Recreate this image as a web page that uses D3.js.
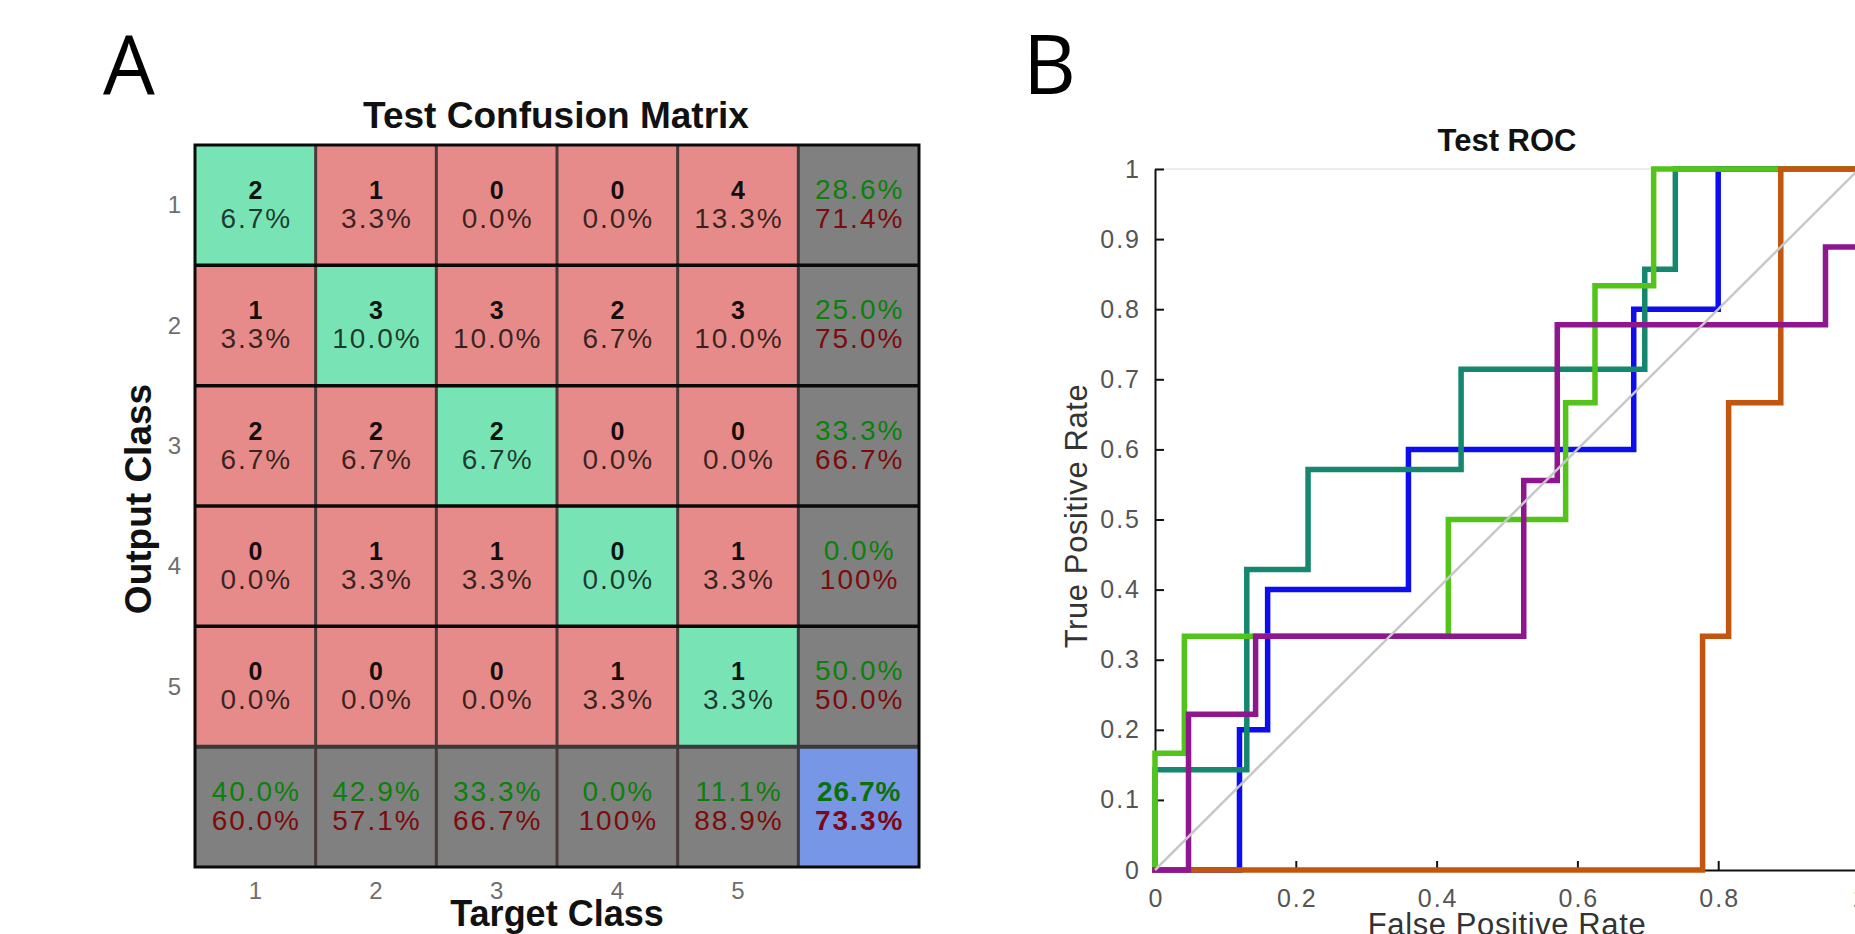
<!DOCTYPE html>
<html><head><meta charset="utf-8">
<script src="https://cdn.jsdelivr.net/npm/d3@7"></script>
<style>html,body{margin:0;padding:0;background:#fff;overflow:hidden}</style>
</head><body>
<svg id="chart" width="1855" height="934"></svg>
<script>
// ---------- Panel A data: confusion matrix ----------
const classes = ["1", "2", "3", "4", "5"];
// rows = output class, columns = target class
const counts = [
  [2, 1, 0, 0, 4],
  [1, 3, 3, 2, 3],
  [2, 2, 2, 0, 0],
  [0, 1, 1, 0, 1],
  [0, 0, 0, 1, 1]
];
const cellPercents = [
  ["6.7%", "3.3%", "0.0%", "0.0%", "13.3%"],
  ["3.3%", "10.0%", "10.0%", "6.7%", "10.0%"],
  ["6.7%", "6.7%", "6.7%", "0.0%", "0.0%"],
  ["0.0%", "3.3%", "3.3%", "0.0%", "3.3%"],
  ["0.0%", "0.0%", "0.0%", "3.3%", "3.3%"]
];
const rowCorrect = ["28.6%", "25.0%", "33.3%", "0.0%", "50.0%"];
const rowWrong   = ["71.4%", "75.0%", "66.7%", "100%", "50.0%"];
const colCorrect = ["40.0%", "42.9%", "33.3%", "0.0%", "11.1%"];
const colWrong   = ["60.0%", "57.1%", "66.7%", "100%", "88.9%"];
const overall    = ["26.7%", "73.3%"];

// ---------- Panel B data: ROC curves (FPR, TPR) ----------
const fprTicks = [0, 0.2, 0.4, 0.6, 0.8, 1];
const fprTickLabels = ["0", "0.2", "0.4", "0.6", "0.8", "1"];
const tprTicks = [0, 0.1, 0.2, 0.3, 0.4, 0.5, 0.6, 0.7, 0.8, 0.9, 1];
const tprTickLabels = ["0", "0.1", "0.2", "0.3", "0.4", "0.5", "0.6", "0.7", "0.8", "0.9", "1"];

const rocClass1 = [[0,0],[0.12,0],[0.12,0.2],[0.16,0.2],[0.16,0.4],[0.36,0.4],[0.36,0.6],[0.68,0.6],[0.68,0.8],[0.80,0.8],[0.80,1],[1,1]];
const rocClass2 = [[0,0],[0,0.1429],[0.1304,0.1429],[0.1304,0.4286],[0.2174,0.4286],[0.2174,0.5714],[0.4348,0.5714],[0.4348,0.7143],[0.6957,0.7143],[0.6957,0.8571],[0.7391,0.8571],[0.7391,1],[1,1]];
const rocClass3 = [[0,0],[0,0.1667],[0.0417,0.1667],[0.0417,0.3333],[0.4167,0.3333],[0.4167,0.5],[0.5833,0.5],[0.5833,0.6667],[0.625,0.6667],[0.625,0.8333],[0.7083,0.8333],[0.7083,1],[1,1]];
const rocClass4 = [[0,0],[0.7778,0],[0.7778,0.3333],[0.8148,0.3333],[0.8148,0.6667],[0.8889,0.6667],[0.8889,1],[1,1]];
const rocClass5 = [[0,0],[0.0476,0],[0.0476,0.2222],[0.1429,0.2222],[0.1429,0.3333],[0.5238,0.3333],[0.5238,0.5556],[0.5714,0.5556],[0.5714,0.7778],[0.9524,0.7778],[0.9524,0.8889],[1,0.8889],[1,1]];
const rocDiagonal = [[0,0],[1,1]];
const rocSeries = [rocClass1, rocClass2, rocClass3, rocClass4, rocClass5];
const rocColors = ["#0d0df0", "#14876e", "#52c41a", "#c4550f", "#8f168f"];

const svg = d3.select("#chart");
const FONT = "'Liberation Sans', Arial, Helvetica, sans-serif";

// Panel letters
svg.append("text").attr("x", 103).attr("y", 95).text("A")
  .attr("font-family", "'Open Sans', sans-serif").attr("font-size", 82).attr("fill", "#000");
svg.append("text").attr("x", 1023).attr("y", 94).text("B")
  .attr("font-family", "'Open Sans', sans-serif").attr("font-size", 82).attr("fill", "#000");

// ---------- Panel A ----------
const idx = d3.range(6);
const colX = d3.scaleBand().domain(idx).range([195, 919]);
const rowY = d3.scaleBand().domain(idx).range([145, 867]);
const GREEN = "#78e4b5", RED = "#e68b89", GRAY = "#808080", BLUE = "#7896e6";

const gA = svg.append("g");
const cells = [];
idx.forEach(r => idx.forEach(c => cells.push({r, c})));
gA.selectAll("rect.cell").data(cells).join("rect").attr("class", "cell")
  .attr("x", d => colX(d.c)).attr("y", d => rowY(d.r))
  .attr("width", colX.bandwidth()).attr("height", rowY.bandwidth())
  .attr("fill", d => (d.r < 5 && d.c < 5) ? (d.r === d.c ? GREEN : RED) : (d.r === 5 && d.c === 5 ? BLUE : GRAY));

// grid lines
d3.range(1, 6).forEach(i => {
  gA.append("line").attr("x1", colX(i)).attr("x2", colX(i)).attr("y1", 145).attr("y2", 867)
    .attr("stroke", i === 5 ? "#3c3c3c" : "#4a3a3a").attr("stroke-width", 3);
});
d3.range(1, 6).forEach(i => {
  gA.append("line").attr("y1", rowY(i)).attr("y2", rowY(i)).attr("x1", 195).attr("x2", 919)
    .attr("stroke", i === 5 ? "#3a3a3a" : "#0a0a0a").attr("stroke-width", i === 5 ? 4 : 3.5);
});
gA.append("rect").attr("x", 195).attr("y", 145).attr("width", 724).attr("height", 722)
  .attr("fill", "none").attr("stroke", "#0a0a0a").attr("stroke-width", 3);

const LS = 2;
const PFS = 28;
function twoLine(x, top, t1, t2, o) {
  gA.append("text").attr("x", x + (o.ls1 || 0) / 2).attr("y", top + 54)
    .attr("text-anchor", "middle").attr("font-family", FONT)
    .attr("font-size", o.fs1).attr("font-weight", o.w1).attr("letter-spacing", o.ls1 || 0)
    .attr("fill", o.c1).attr("fill-opacity", o.op1).text(t1);
  gA.append("text").attr("x", x + LS / 2).attr("y", top + 83)
    .attr("text-anchor", "middle").attr("font-family", FONT)
    .attr("font-size", PFS).attr("font-weight", o.w2).attr("letter-spacing", LS)
    .attr("fill", o.c2).attr("fill-opacity", o.op2).text(t2);
}
for (let r = 0; r < 5; r++) for (let c = 0; c < 5; c++) {
  twoLine(colX(c) + colX.bandwidth() / 2, rowY(r), String(counts[r][c]), cellPercents[r][c],
    {fs1: 25, w1: "bold", c1: "#000", op1: 0.92, c2: "#000", op2: 0.75, w2: "normal"});
}
for (let r = 0; r < 5; r++) {
  twoLine(colX(5) + colX.bandwidth() / 2, rowY(r), rowCorrect[r], rowWrong[r],
    {fs1: PFS, ls1: LS, w1: "normal", c1: "#0c800c", op1: 1, c2: "#7c0c0c", op2: 1, w2: "normal"});
}
for (let c = 0; c < 5; c++) {
  twoLine(colX(c) + colX.bandwidth() / 2, rowY(5), colCorrect[c], colWrong[c],
    {fs1: PFS, ls1: LS, w1: "normal", c1: "#0c800c", op1: 1, c2: "#7c0c0c", op2: 1, w2: "normal"});
}
twoLine(colX(5) + colX.bandwidth() / 2, rowY(5), overall[0], overall[1],
  {fs1: PFS, ls1: 1, w1: "bold", c1: "#0a700a", op1: 1, c2: "#7a0a1a", op2: 1, w2: "bold"});

// tick labels
classes.forEach((k, i) => {
  gA.append("text").attr("x", 181).attr("y", rowY(i) + rowY.bandwidth() / 2 + 8)
    .attr("text-anchor", "end").attr("font-family", FONT).attr("font-size", 24)
    .attr("fill", "#6e6e6e").text(k);
  gA.append("text").attr("x", colX(i) + colX.bandwidth() / 2).attr("y", 899)
    .attr("text-anchor", "middle").attr("font-family", FONT).attr("font-size", 24)
    .attr("fill", "#6e6e6e").text(k);
});
gA.append("text").attr("x", 556).attr("y", 128).attr("text-anchor", "middle")
  .attr("font-family", FONT).attr("font-weight", "bold").attr("font-size", 37).attr("fill", "#111")
  .text("Test Confusion Matrix");
gA.append("text").attr("x", 557).attr("y", 926).attr("text-anchor", "middle")
  .attr("font-family", FONT).attr("font-weight", "bold").attr("font-size", 36).attr("fill", "#111")
  .text("Target Class");
gA.append("text").attr("transform", "translate(151,499) rotate(-90)").attr("text-anchor", "middle")
  .attr("font-family", FONT).attr("font-weight", "bold").attr("font-size", 37).attr("fill", "#111")
  .text("Output Class");

// ---------- Panel B ----------
const x = d3.scaleLinear().domain([0, 1]).range([1155, 1859]);
const y = d3.scaleLinear().domain([0, 1]).range([870, 169]);
const gB = svg.append("g");

// faint top box line
gB.append("line").attr("x1", x(0)).attr("x2", x(1)).attr("y1", y(1)).attr("y2", y(1))
  .attr("stroke", "#ececec").attr("stroke-width", 2);

const yAxis = gB.append("g").attr("transform", `translate(${x(0)},0)`)
  .call(d3.axisLeft(y).tickValues(tprTicks).tickFormat((d, i) => tprTickLabels[i])
    .tickSizeInner(-9).tickSizeOuter(0).tickPadding(14));
const xAxis = gB.append("g").attr("transform", `translate(0,${y(0)})`)
  .call(d3.axisBottom(x).tickValues(fprTicks).tickFormat((d, i) => fprTickLabels[i])
    .tickSizeInner(-9).tickSizeOuter(0).tickPadding(19));
[yAxis, xAxis].forEach(a => {
  a.select(".domain").attr("stroke", "#111").attr("stroke-width", 2);
  a.selectAll(".tick line").attr("stroke", "#111").attr("stroke-width", 2);
  a.selectAll(".tick text").attr("font-family", FONT).attr("font-size", 25)
    .attr("letter-spacing", 2).attr("fill", "#555");
});
xAxis.selectAll(".tick text").attr("dx", 1);

const line = d3.line().x(d => x(d[0])).y(d => y(d[1]));
gB.selectAll("path.roc").data(rocSeries).join("path").attr("class", "roc")
  .attr("d", line).attr("fill", "none")
  .attr("stroke", (d, i) => rocColors[i]).attr("stroke-width", 5.5)
  .attr("stroke-linejoin", "miter").attr("stroke-linecap", "square");
gB.append("path").datum(rocDiagonal).attr("d", line).attr("fill", "none")
  .attr("stroke", "#c8c8c8").attr("stroke-width", 2.5);

gB.append("text").attr("x", 1507).attr("y", 151).attr("text-anchor", "middle")
  .attr("font-family", FONT).attr("font-weight", "bold").attr("font-size", 31).attr("fill", "#111")
  .text("Test ROC");
gB.append("text").attr("x", 1507).attr("y", 935).attr("text-anchor", "middle")
  .attr("font-family", FONT).attr("font-size", 31).attr("letter-spacing", 0.6).attr("fill", "#333")
  .text("False Positive Rate");
gB.append("text").attr("transform", "translate(1087,516) rotate(-90)").attr("text-anchor", "middle")
  .attr("font-family", FONT).attr("font-size", 31).attr("letter-spacing", 0.6).attr("fill", "#333")
  .text("True Positive Rate");
</script>
</body></html>
